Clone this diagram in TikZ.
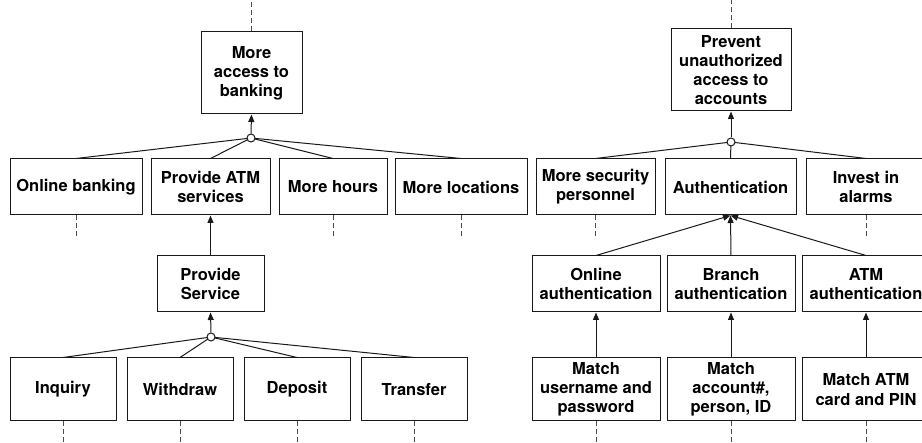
\documentclass[tikz,border=0pt]{standalone}
\usepackage{fontspec}
\setmainfont{TeX Gyre Heros}
\usetikzlibrary{arrows.meta}
\tikzset{
  goal/.style={draw=black!90, fill=white, line width=1pt, align=center,
               inner sep=0pt, font=\fontsize{16.5}{19.2}\selectfont\bfseries},
  link/.style={line width=1pt, draw=black!90},
  arrow/.style={link, -{Triangle[length=7.5pt,width=6pt]}},
  stub/.style={line width=1pt, draw=black!70, dash pattern=on 5pt off 3pt},
  orgate/.style={circle, draw=black!90, fill=white, line width=1pt,
                 minimum size=8pt, inner sep=0pt}
}
\begin{document}
\begin{tikzpicture}[x=1pt,y=-1pt]
    \useasboundingbox (0,0) rectangle (922,443);

    % Left tree: more access to banking
    \node[goal, minimum width=101pt, minimum height=82pt] (acc) at (251.5,73) {More\\access to\\banking};
    \node[goal, minimum width=132pt, minimum height=56pt] (onl) at (76,187) {Online banking};
    \node[goal, minimum width=119pt, minimum height=56pt] (atm) at (210.5,187) {Provide ATM\\services};
    \node[goal, minimum width=108pt, minimum height=56pt] (hrs) at (333,187) {More hours};
    \node[goal, minimum width=132pt, minimum height=56pt] (loc) at (461,187) {More locations};
    \node[goal, minimum width=107pt, minimum height=56pt] (svc) at (210.5,284) {Provide\\Service};
    \node[goal, minimum width=106pt, minimum height=63pt] (inq) at (63,389.5) {Inquiry};
    \node[goal, minimum width=106pt, minimum height=63pt] (wdr) at (180,389.5) {Withdraw};
    \node[goal, minimum width=106pt, minimum height=63pt] (dep) at (297,389.5) {Deposit};
    \node[goal, minimum width=106pt, minimum height=63pt] (trn) at (414,389.5) {Transfer};

    \coordinate (g1) at (251,138);
    \foreach \n in {onl,atm,hrs,loc} \draw[link] (g1) -- (\n.north);
    \node[orgate] (or1) at (g1) {};
    \draw[arrow] (or1.north) -- (acc.south);
    \draw[arrow] (svc.north) -- (atm.south);

    \coordinate (g2) at (211,337);
    \foreach \n in {inq,wdr,dep,trn} \draw[link] (g2) -- (\n.north);
    \node[orgate] (or2) at (g2) {};
    \draw[arrow] (or2.north) -- (svc.south);

    % Right tree: prevent unauthorized access
    \node[goal, minimum width=120pt, minimum height=82pt] (prev) at (731,70) {Prevent\\unauthorized\\access to\\accounts};
    \node[goal, minimum width=119pt, minimum height=56pt] (sec) at (595.5,187) {More security\\personnel};
    \node[goal, minimum width=131pt, minimum height=56pt] (aut) at (730.5,187) {Authentication};
    \node[goal, minimum width=120pt, minimum height=56pt] (alm) at (866,187) {Invest in\\alarms};
    \node[goal, minimum width=128pt, minimum height=56pt] (oau) at (596,284) {Online\\authentication};
    \node[goal, minimum width=128pt, minimum height=56pt] (bau) at (731,284) {Branch\\authentication};
    \node[goal, minimum width=128pt, minimum height=56pt] (mau) at (866,284) {ATM\\authentication};
    \node[goal, minimum width=128pt, minimum height=63pt] (mun) at (596,389.5) {Match\\username and\\password};
    \node[goal, minimum width=128pt, minimum height=63pt] (mac) at (731,389.5) {Match\\account\#,\\person, ID};
    \node[goal, minimum width=128pt, minimum height=63pt] (mpin) at (866,389.5) {Match ATM\\card and PIN};

    \coordinate (g3) at (731,142);
    \foreach \n in {sec,aut,alm} \draw[link] (g3) -- (\n.north);
    \node[orgate] (or3) at (g3) {};
    \draw[arrow] (or3.north) -- (prev.south);
    \foreach \n in {oau,bau,mau} \draw[arrow] (\n.north) -- (aut.south);
    \draw[arrow] (mun.north) -- (oau.south);
    \draw[arrow] (mac.north) -- (bau.south);
    \draw[arrow] (mpin.north) -- (mau.south);

    % open ends
    \draw[stub] (acc.north) -- ++(0,-32);
    \draw[stub] (prev.north) -- ++(0,-29);
    \foreach \n in {onl,hrs,loc,sec,alm,inq,wdr,dep,trn,mun,mac,mpin}
      \draw[stub] (\n.south) -- ++(0,22);
\end{tikzpicture}
\end{document}
